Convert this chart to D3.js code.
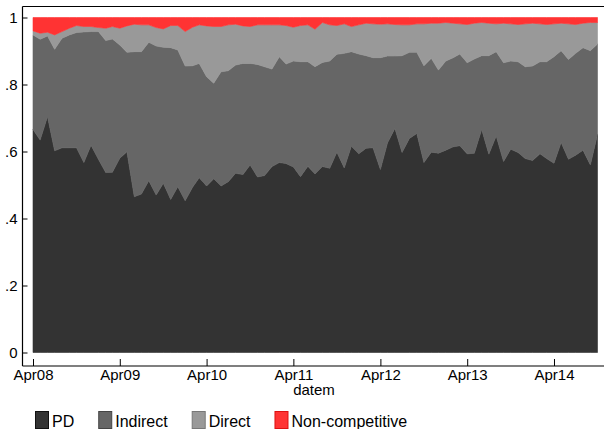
<!DOCTYPE html>
<html>
<head>
<meta charset="utf-8">
<script src="https://cdn.jsdelivr.net/npm/d3@7"></script>
<style>
  html, body { margin: 0; padding: 0; background: #fff; }
  svg { display: block; font-family: "Liberation Sans", Arial, Helvetica, sans-serif; }
</style>
</head>
<body>
<svg id="chart" width="604" height="429"></svg>
<script>
// Monthly shares of each bidder type, Apr 2008 - Oct 2014
const startMonth = new Date(2008, 3, 1);
const endMonth = new Date(2014, 9, 1);
const months = d3.timeMonth.range(startMonth, d3.timeMonth.offset(endMonth, 1));

const seriesNames = ["PD", "Indirect", "Direct", "Non-competitive"];
const seriesColors = ["#333333", "#666666", "#999999", "#ff3333"];
const seriesEdges = ["#111111", "#444444", "#777777", "#dd1111"];

const pd = [
  .666, .634, .704, .602, .611, .611, .611, .567, .619, .577, .537, .538, .580, .599, .465, .473,
  .513, .470, .505, .457, .495, .453, .493, .522, .497, .519, .497, .510, .535, .531, .560, .524,
  .528, .555, .567, .564, .554, .525, .556, .533, .555, .550, .598, .551, .616, .593, .610, .611,
  .546, .626, .669, .597, .639, .654, .567, .598, .595, .604, .614, .617, .593, .595, .666, .592,
  .646, .570, .607, .597, .579, .573, .593, .579, .565, .627, .577, .589, .604, .560, .651
];
const indirect = [
  .282, .301, .241, .303, .327, .337, .344, .390, .339, .381, .394, .398, .338, .297, .433, .425,
  .413, .445, .406, .453, .408, .402, .363, .341, .326, .285, .341, .331, .323, .332, .303, .336,
  .325, .291, .316, .297, .316, .343, .312, .320, .311, .320, .292, .342, .282, .298, .276, .269,
  .334, .259, .216, .289, .257, .242, .289, .280, .248, .266, .266, .274, .272, .281, .220, .294,
  .252, .295, .263, .271, .274, .282, .275, .289, .318, .274, .298, .304, .306, .341, .270
];
const direct = [
  .012, .018, .011, .043, .020, .020, .021, .016, .015, .012, .037, .037, .050, .079, .082, .080,
  .052, .055, .055, .066, .073, .103, .115, .115, .152, .169, .135, .137, .122, .112, .110, .118,
  .125, .132, .095, .115, .101, .108, .110, .112, .119, .108, .086, .088, .075, .087, .097, .101,
  .100, .096, .094, .092, .082, .085, .125, .105, .140, .115, .103, .090, .114, .107, .099, .097,
  .083, .118, .111, .111, .128, .128, .113, .111, .098, .082, .106, .086, .073, .084, .064
];
const nonCompetitive = [
  .040, .047, .044, .052, .042, .032, .024, .027, .027, .030, .032, .027, .032, .025, .020, .022,
  .022, .030, .034, .024, .024, .042, .029, .022, .025, .027, .027, .022, .020, .025, .027, .022,
  .022, .022, .022, .024, .029, .024, .022, .035, .015, .022, .024, .019, .027, .022, .017, .019,
  .020, .019, .021, .022, .022, .019, .019, .017, .017, .015, .017, .019, .021, .017, .015, .017,
  .019, .017, .019, .021, .019, .017, .019, .021, .019, .017, .019, .021, .017, .015, .015
];

const yTicks = [0, .2, .4, .6, .8, 1];
const yTickLabels = ["0", ".2", ".4", ".6", ".8", "1"];
const xTicks = [2008, 2009, 2010, 2011, 2012, 2013, 2014].map(y => new Date(y, 3, 1));
const xTitle = "datem";

const rows = months.map((m, i) => ({
  date: m,
  "PD": pd[i],
  "Indirect": indirect[i],
  "Direct": direct[i],
  "Non-competitive": nonCompetitive[i]
}));

const svg = d3.select("#chart");
const fontSize = 15;
const legendFontSize = 16;

// Plot frame and scales
const frame = { left: 22.5, top: 6.5, bottom: 366, right: 604 };
const x = d3.scaleTime().domain([startMonth, endMonth]).range([33, 597.5]);
const y = d3.scaleLinear().domain([0, 1]).range([352.5, 17.5]);

const stacked = d3.stack().keys(seriesNames)(rows);
const area = d3.area()
  .x(d => x(d.data.date))
  .y0(d => y(d[0]))
  .y1(d => y(d[1]))
  .curve(d3.curveLinear);

svg.append("g").selectAll("path")
  .data(stacked)
  .join("path")
  .attr("d", area)
  .attr("fill", (d, i) => seriesColors[i])
  .attr("stroke", (d, i) => seriesColors[i])
  .attr("stroke-width", 0.6);

// Frame line along the top
svg.append("line")
  .attr("x1", frame.left).attr("x2", frame.right)
  .attr("y1", frame.top).attr("y2", frame.top)
  .attr("stroke", "#000").attr("stroke-width", 1.2);

// Y axis (ticks point into the plot)
const yAxis = d3.axisRight(y).tickValues(yTicks)
  .tickFormat((d, i) => yTickLabels[i]).tickSize(5);
const gy = svg.append("g").attr("transform", `translate(${frame.left},0)`).call(yAxis);
gy.select(".domain").attr("d", `M0,${frame.top}V${frame.bottom}`)
  .attr("stroke", "#000").attr("stroke-width", 1.2);
gy.selectAll(".tick line").attr("stroke", "#000").attr("stroke-width", 1);
gy.selectAll(".tick text")
  .attr("text-anchor", "end")
  .attr("x", -5)
  .attr("font-size", fontSize)
  .attr("fill", "#000")
  .attr("font-family", "Liberation Sans, Arial, sans-serif");

// X axis (ticks point up into the plot)
const xAxis = d3.axisTop(x).tickValues(xTicks)
  .tickFormat(d3.timeFormat("%b%y")).tickSize(7);
const gx = svg.append("g").attr("transform", `translate(0,${frame.bottom})`).call(xAxis);
gx.select(".domain").attr("d", `M${frame.left},0H${frame.right}`)
  .attr("stroke", "#000").attr("stroke-width", 1.2);
gx.selectAll(".tick line").attr("stroke", "#000").attr("stroke-width", 1);
gx.selectAll(".tick text")
  .attr("y", 14)
  .attr("dy", "0")
  .attr("text-anchor", "middle")
  .attr("font-size", fontSize)
  .attr("fill", "#000")
  .attr("font-family", "Liberation Sans, Arial, sans-serif");

svg.append("text")
  .attr("x", 314).attr("y", 395)
  .attr("text-anchor", "middle")
  .attr("font-size", fontSize)
  .text(xTitle);

// Legend
const legend = svg.append("g");
let lx = 35;
seriesNames.forEach((name, i) => {
  legend.append("rect")
    .attr("x", lx + 0.5).attr("y", 411.5)
    .attr("width", 13).attr("height", 17)
    .attr("fill", seriesColors[i])
    .attr("stroke", seriesEdges[i]).attr("stroke-width", 1);
  const t = legend.append("text")
    .attr("x", lx + 17).attr("y", 426.5)
    .attr("font-size", legendFontSize)
    .text(name);
  lx = lx + 17 + t.node().getComputedTextLength() + 24;
});
</script>
</body>
</html>
